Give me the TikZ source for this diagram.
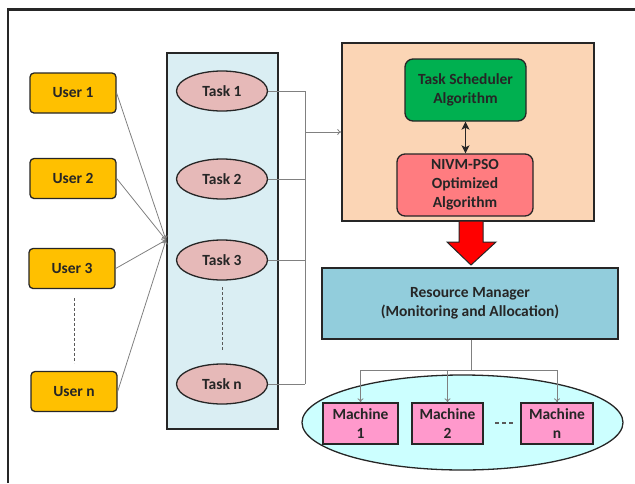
\documentclass[tikz,border=0pt]{standalone}
\usepackage{fontspec}
\setmainfont{Carlito}
\usetikzlibrary{shapes.geometric,arrows.meta}

\definecolor{userc}{HTML}{FFC000}
\definecolor{panelc}{HTML}{DAEEF3}
\definecolor{taskc}{HTML}{E6B9B8}
\definecolor{schedbg}{HTML}{FBD5B5}
\definecolor{schedc}{HTML}{00B050}
\definecolor{psoc}{HTML}{FF7C80}
\definecolor{rmc}{HTML}{92CDDC}
\definecolor{poolc}{HTML}{CCFFFF}
\definecolor{machc}{HTML}{FF99CC}
\definecolor{wirec}{HTML}{808080}

\tikzset{
  lbl/.style={font=\bfseries\fontsize{15.5}{19}\selectfont, text=black!85, align=center, inner sep=0pt},
  userbox/.style={lbl, draw=black!85, line width=1.3pt, fill=userc, rounded corners=4pt,
                  minimum width=86pt, minimum height=40pt},
  taskell/.style={lbl, ellipse, draw=black!85, line width=1.3pt, fill=taskc,
                  minimum width=91pt, minimum height=40pt},
  algbox/.style={lbl, draw=black!85, line width=1.3pt, rounded corners=8pt,
                 minimum height=62pt},
  machbox/.style={lbl, draw=black!85, line width=1.3pt, fill=machc, minimum height=41pt},
  wire/.style={draw=wirec, line width=0.8pt},
  wirearrow/.style={wire, -{To[length=4pt,width=6pt]}},
  dotline/.style={draw=black!65, line width=1pt, dash pattern=on 3pt off 2pt},
}

\begin{document}
\begin{tikzpicture}[x=1pt, y=-1pt]
\useasboundingbox (0,0) rectangle (635,483);

% outer frame (top and left edges)
\draw[line width=2.4pt, black!85] (8,483) -- (8,9.5) -- (635,9.5);

% task queue panel
\node[draw=black!85, line width=1.5pt, fill=panelc, minimum width=111pt, minimum height=376pt,
      inner sep=0pt] (panel) at (222.5,241) {};

% users
\node[userbox] (u1) at (73,93) {User 1};
\node[userbox] (u2) at (73,178.5) {User 2};
\node[userbox] (u3) at (72,268.5) {User 3};
\node[userbox] (un) at (74,391.5) {User n};
\coordinate (udotA) at (74,298);
\coordinate (udotB) at (74,363);
\draw[dotline] (udotA) -- (udotB);

% tasks
\node[taskell] (t1) at (222,91) {Task 1};
\node[taskell] (t2) at (222,179) {Task 2};
\node[taskell] (t3) at (222,260) {Task 3};
\node[taskell] (tn) at (222,384) {Task n};
\coordinate (tdotA) at (222,287);
\coordinate (tdotB) at (222,350);
\draw[dotline] (tdotA) -- (tdotB);

% users submit to the queue
\coordinate (inlet) at (166,240);
\foreach \u in {u1,u2,u3,un}
  \draw[wirearrow] (\u.east) -- (inlet);

% scheduling block
\node[draw=black!85, line width=1.5pt, fill=schedbg, minimum width=252pt, minimum height=178pt,
      inner sep=0pt] (sched) at (468,132) {};
\node[algbox, fill=schedc, minimum width=121pt] (alg) at (465.5,90) {Task Scheduler\\Algorithm};
\node[algbox, fill=psoc, minimum width=136pt] (pso) at (465,185) {NIVM-PSO\\Optimized\\Algorithm};
\draw[{Stealth[length=8pt,width=8pt,inset=2pt]}-{Stealth[length=8pt,width=8pt,inset=2pt]},
      line width=1.6pt, black!85]
  (alg.south) -- (alg.south |- pso.north);

% task bus into the scheduler
\coordinate (bus) at (305,132);
\foreach \t in {t1,t2,t3,tn}
  \draw[wire] (\t.east) -- (\t.east -| bus);
\draw[wire] (t1.east -| bus) -- (tn.east -| bus);
\draw[wirearrow] (bus) -- (sched.west);

% block arrow down to the resource manager
\draw[fill=red, draw=black!85, line width=1pt]
  (459,221) -- (483,221) -- (483,242) -- (496,242) -- (471,265) -- (447,242) -- (459,242) -- cycle;

% resource manager
\node[lbl, draw=black!85, line width=1.5pt, fill=rmc, minimum width=296pt, minimum height=71pt]
  (rm) at (470,303.5) {Resource Manager\\(Monitoring and Allocation)};

% machine pool
\node[ellipse, draw=black!85, line width=1.3pt, fill=poolc, minimum width=321pt, minimum height=95pt,
      inner sep=0pt] (pool) at (462.5,422.5) {};
\node[machbox, minimum width=75pt] (m1) at (360.5,423.5) {Machine\\1};
\node[machbox, minimum width=71pt] (m2) at (447.5,423.5) {Machine\\2};
\node[machbox, minimum width=72pt] (mn) at (557,423.5) {Machine\\n};
\coordinate (mdotA) at (495,423);
\coordinate (mdotB) at (514,423);
\draw[draw=black!65, line width=1.2pt, dash pattern=on 4pt off 3pt] (mdotA) -- (mdotB);

% distribution wires
\coordinate (split) at (471,370);
\draw[wire] (rm.south -| split) -- (split);
\draw[wirearrow] (split) -| (m1.north);
\draw[wirearrow] (split) -| (mn.north);
\draw[wirearrow] (m2.north |- split) -- (m2.north);
\end{tikzpicture}
\end{document}
